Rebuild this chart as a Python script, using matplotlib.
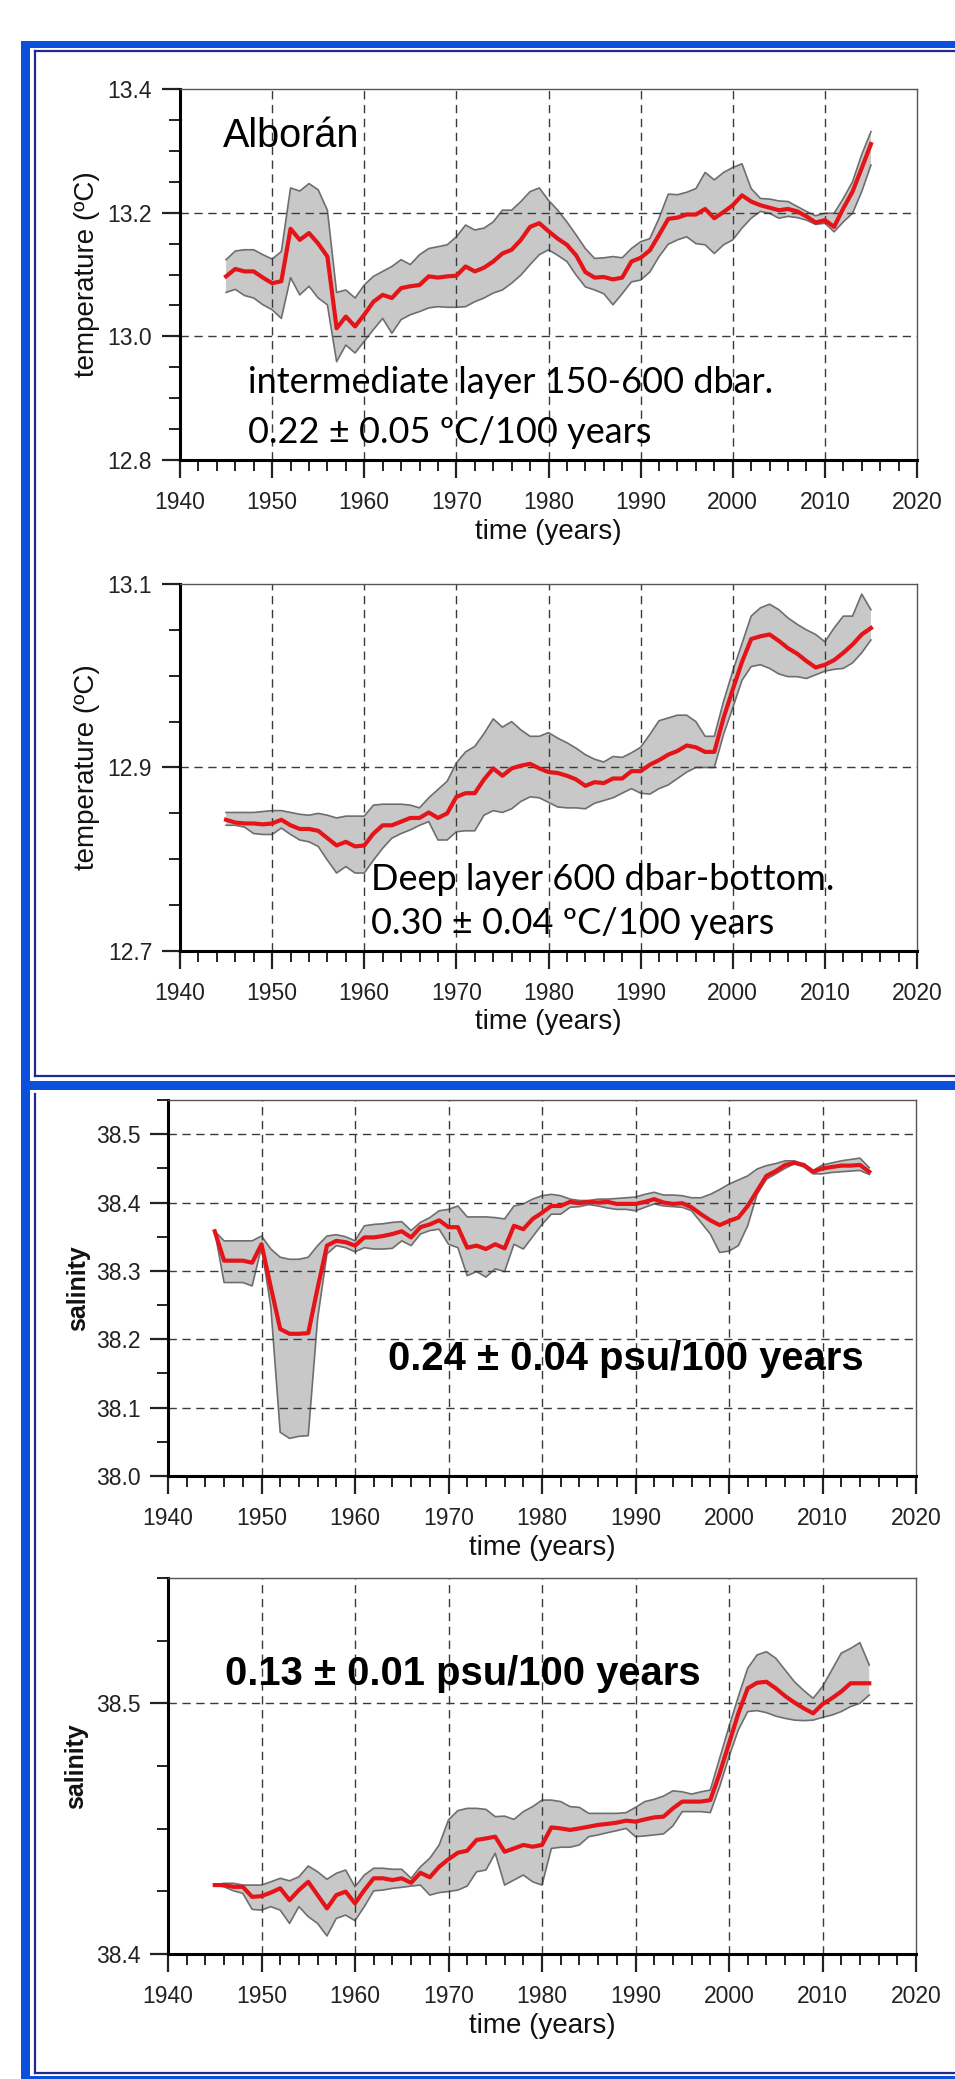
import numpy as np
import matplotlib
matplotlib.use("Agg")
import matplotlib.pyplot as plt
from matplotlib.patches import Rectangle
from matplotlib.lines import Line2D
from matplotlib.ticker import MultipleLocator, FormatStrFormatter

plt.rcParams['font.family'] = ['Liberation Sans', 'DejaVu Sans']

W, H = 955, 2079
years = np.arange(1945, 2016)
grid_years = [1950, 1960, 1970, 1980, 1990, 2000, 2010]

# --- intermediate layer temperature (150-600 dbar)
t_int = [13.097, 13.109, 13.105, 13.105, 13.095, 13.086, 13.089, 13.174, 13.156, 13.167,
         13.150, 13.129, 13.013, 13.032, 13.016, 13.035, 13.056, 13.067, 13.062, 13.078,
         13.081, 13.083, 13.097, 13.095, 13.097, 13.098, 13.113, 13.105, 13.111, 13.121,
         13.134, 13.140, 13.156, 13.177, 13.183, 13.170, 13.158, 13.148, 13.131, 13.104,
         13.095, 13.096, 13.092, 13.095, 13.121, 13.127, 13.139, 13.164, 13.190, 13.192,
         13.197, 13.197, 13.206, 13.191, 13.201, 13.212, 13.228, 13.218, 13.212, 13.208,
         13.204, 13.206, 13.202, 13.194, 13.184, 13.188, 13.177, 13.207, 13.234, 13.272,
         13.311]
t_int_hi = [13.124, 13.138, 13.140, 13.140, 13.132, 13.125, 13.137, 13.240, 13.235, 13.247,
            13.237, 13.204, 13.071, 13.075, 13.062, 13.083, 13.097, 13.105, 13.113, 13.124,
            13.116, 13.132, 13.142, 13.145, 13.148, 13.161, 13.180, 13.172, 13.175, 13.185,
            13.204, 13.204, 13.218, 13.234, 13.240, 13.220, 13.204, 13.185, 13.164, 13.142,
            13.126, 13.127, 13.129, 13.127, 13.142, 13.153, 13.158, 13.191, 13.230, 13.229,
            13.233, 13.239, 13.265, 13.253, 13.265, 13.273, 13.279, 13.239, 13.223, 13.222,
            13.219, 13.218, 13.210, 13.202, 13.195, 13.199, 13.199, 13.223, 13.250, 13.294,
            13.331]
t_int_lo = [13.071, 13.076, 13.066, 13.062, 13.051, 13.043, 13.029, 13.095, 13.067, 13.081,
            13.062, 13.051, 12.959, 12.986, 12.973, 12.992, 13.011, 13.029, 13.005, 13.027,
            13.035, 13.040, 13.046, 13.048, 13.047, 13.047, 13.048, 13.056, 13.062, 13.070,
            13.075, 13.086, 13.099, 13.116, 13.132, 13.140, 13.131, 13.121, 13.099, 13.080,
            13.075, 13.069, 13.051, 13.069, 13.088, 13.091, 13.104, 13.129, 13.149, 13.156,
            13.161, 13.150, 13.148, 13.134, 13.148, 13.156, 13.175, 13.191, 13.202, 13.199,
            13.191, 13.194, 13.192, 13.188, 13.181, 13.183, 13.169, 13.185, 13.199, 13.234,
            13.277]

# --- deep layer temperature (600 dbar-bottom)
t_deep = [12.843, 12.840, 12.839, 12.839, 12.838, 12.839, 12.843, 12.837, 12.833, 12.833,
          12.831, 12.823, 12.815, 12.819, 12.814, 12.815, 12.828, 12.837, 12.837, 12.841,
          12.845, 12.845, 12.851, 12.845, 12.850, 12.868, 12.872, 12.872, 12.887, 12.899,
          12.891, 12.899, 12.902, 12.904, 12.899, 12.895, 12.894, 12.891, 12.887, 12.880,
          12.884, 12.883, 12.888, 12.888, 12.896, 12.896, 12.903, 12.908, 12.914, 12.918,
          12.924, 12.922, 12.917, 12.917, 12.954, 12.985, 13.015, 13.040, 13.043, 13.045,
          13.038, 13.030, 13.024, 13.016, 13.009, 13.012, 13.017, 13.025, 13.034, 13.045,
          13.052]
t_deep_hi = [12.851, 12.851, 12.851, 12.851, 12.852, 12.853, 12.853, 12.851, 12.849, 12.848,
             12.850, 12.848, 12.845, 12.847, 12.847, 12.847, 12.859, 12.860, 12.860, 12.860,
             12.859, 12.856, 12.867, 12.876, 12.885, 12.905, 12.917, 12.923, 12.937, 12.953,
             12.944, 12.950, 12.941, 12.934, 12.934, 12.938, 12.932, 12.927, 12.921, 12.914,
             12.909, 12.906, 12.912, 12.911, 12.916, 12.922, 12.936, 12.951, 12.954, 12.957,
             12.957, 12.950, 12.934, 12.934, 12.972, 13.005, 13.035, 13.065, 13.074, 13.078,
             13.072, 13.063, 13.056, 13.050, 13.045, 13.037, 13.052, 13.065, 13.065, 13.089,
             13.072]
t_deep_lo = [12.837, 12.837, 12.835, 12.828, 12.827, 12.827, 12.834, 12.827, 12.821, 12.819,
             12.814, 12.799, 12.785, 12.792, 12.785, 12.785, 12.799, 12.812, 12.823, 12.828,
             12.832, 12.837, 12.841, 12.821, 12.821, 12.830, 12.831, 12.831, 12.848, 12.853,
             12.851, 12.855, 12.863, 12.868, 12.867, 12.862, 12.857, 12.856, 12.856, 12.855,
             12.861, 12.864, 12.867, 12.872, 12.877, 12.872, 12.871, 12.877, 12.881, 12.888,
             12.895, 12.900, 12.900, 12.900, 12.936, 12.965, 12.995, 13.010, 13.012, 13.008,
             13.002, 12.999, 12.999, 12.997, 13.001, 13.005, 13.007, 13.008, 13.014, 13.025,
             13.039]

# --- intermediate layer salinity
s_int = [38.358, 38.315, 38.315, 38.315, 38.312, 38.339, 38.276, 38.215, 38.208, 38.208,
         38.209, 38.275, 38.337, 38.344, 38.342, 38.337, 38.349, 38.349, 38.351, 38.354,
         38.358, 38.349, 38.364, 38.368, 38.374, 38.364, 38.364, 38.334, 38.337, 38.332,
         38.339, 38.333, 38.366, 38.361, 38.376, 38.385, 38.395, 38.395, 38.401, 38.399,
         38.401, 38.400, 38.401, 38.398, 38.398, 38.398, 38.401, 38.405, 38.400, 38.398,
         38.399, 38.393, 38.383, 38.374, 38.367, 38.373, 38.378, 38.395, 38.417, 38.439,
         38.446, 38.455, 38.458, 38.455, 38.445, 38.450, 38.452, 38.454, 38.454, 38.455,
         38.445]
s_int_hi = [38.358, 38.344, 38.344, 38.344, 38.344, 38.351, 38.332, 38.320, 38.317, 38.317,
            38.320, 38.337, 38.351, 38.353, 38.350, 38.344, 38.366, 38.368, 38.369, 38.371,
            38.372, 38.359, 38.371, 38.378, 38.388, 38.390, 38.395, 38.379, 38.379, 38.379,
            38.378, 38.376, 38.395, 38.398, 38.405, 38.410, 38.412, 38.410, 38.405, 38.403,
            38.403, 38.405, 38.405, 38.406, 38.407, 38.408, 38.412, 38.415, 38.411, 38.411,
            38.410, 38.407, 38.407, 38.412, 38.419, 38.427, 38.433, 38.439, 38.449, 38.454,
            38.457, 38.461, 38.461, 38.456, 38.447, 38.455, 38.458, 38.461, 38.463, 38.465,
            38.451]
s_int_lo = [38.358, 38.283, 38.283, 38.283, 38.278, 38.335, 38.247, 38.064, 38.055, 38.058,
            38.059, 38.230, 38.325, 38.337, 38.334, 38.328, 38.334, 38.332, 38.332, 38.333,
            38.344, 38.337, 38.354, 38.359, 38.361, 38.339, 38.334, 38.293, 38.299, 38.291,
            38.303, 38.299, 38.339, 38.332, 38.350, 38.368, 38.383, 38.383, 38.393, 38.394,
            38.397, 38.395, 38.392, 38.390, 38.390, 38.388, 38.393, 38.398, 38.395, 38.394,
            38.393, 38.388, 38.371, 38.354, 38.327, 38.329, 38.337, 38.366, 38.412, 38.434,
            38.442, 38.450, 38.457, 38.452, 38.442, 38.442, 38.444, 38.445, 38.446, 38.447,
            38.441]

# --- deep layer salinity
s_deep = [38.4275, 38.4275, 38.4268, 38.4268, 38.4228, 38.4231, 38.4245, 38.4262, 38.4215, 38.4255,
          38.4288, 38.4235, 38.4182, 38.4235, 38.4249, 38.4202, 38.4255, 38.4302, 38.4302, 38.4295,
          38.4302, 38.4284, 38.4324, 38.4306, 38.4348, 38.4378, 38.4404, 38.4412, 38.4455, 38.4461,
          38.4468, 38.4408, 38.4421, 38.4435, 38.4428, 38.4435, 38.4505, 38.4501, 38.4495, 38.4501,
          38.4508, 38.4515, 38.4519, 38.4524, 38.4532, 38.4528, 38.4537, 38.4545, 38.4548, 38.4581,
          38.4608, 38.4608, 38.4608, 38.4614, 38.4721, 38.4840, 38.4960, 38.5060, 38.5082, 38.5086,
          38.5060, 38.5029, 38.5003, 38.4980, 38.4960, 38.4997, 38.5020, 38.5047, 38.5080, 38.5080,
          38.5080]
s_deep_hi = [38.4275, 38.4282, 38.4282, 38.4275, 38.4275, 38.4275, 38.4288, 38.4302, 38.4292, 38.4308,
             38.4351, 38.4328, 38.4298, 38.4322, 38.4335, 38.4268, 38.4315, 38.4342, 38.4342, 38.4338,
             38.4338, 38.4302, 38.4348, 38.4382, 38.4435, 38.4535, 38.4572, 38.4581, 38.4581, 38.4577,
             38.4548, 38.4550, 38.4537, 38.4568, 38.4588, 38.4614, 38.4614, 38.4608, 38.4588, 38.4585,
             38.4561, 38.4561, 38.4561, 38.4561, 38.4564, 38.4585, 38.4608, 38.4617, 38.4630, 38.4651,
             38.4647, 38.4638, 38.4647, 38.4654, 38.4781, 38.4907, 38.5027, 38.5140, 38.5193, 38.5206,
             38.5180, 38.5133, 38.5086, 38.5051, 38.5020, 38.5067, 38.5133, 38.5200, 38.5219, 38.5242,
             38.5153]
s_deep_lo = [38.4275, 38.4268, 38.4252, 38.4242, 38.4178, 38.4175, 38.4189, 38.4175, 38.4122, 38.4189,
             38.4149, 38.4122, 38.4072, 38.4142, 38.4155, 38.4133, 38.4189, 38.4252, 38.4255, 38.4262,
             38.4266, 38.4271, 38.4275, 38.4235, 38.4245, 38.4249, 38.4255, 38.4271, 38.4328, 38.4335,
             38.4402, 38.4275, 38.4295, 38.4315, 38.4288, 38.4275, 38.4421, 38.4426, 38.4426, 38.4435,
             38.4468, 38.4475, 38.4484, 38.4492, 38.4501, 38.4468, 38.4471, 38.4475, 38.4479, 38.4511,
             38.4568, 38.4568, 38.4568, 38.4564, 38.4668, 38.4787, 38.4894, 38.4967, 38.4971, 38.4963,
             38.4949, 38.4940, 38.4933, 38.4931, 38.4933, 38.4944, 38.4953, 38.4967, 38.4987, 38.5000,
             38.5033]

BLUE = '#0B4FDD'
NAVY = '#1D2B8F'
RED = '#E41418'
BAND = '#C8C8C8'
EDGE = '#6E6E6E'
GRID = '#3A3A3A'

fig = plt.figure(figsize=(W / 100, H / 100), dpi=100)
fig.patch.set_facecolor('white')


def fx(px):
    return px / W


def fy(py):
    return 1 - py / H


# blue double frame around the two groups of panels
for x0, y0, x1, y1 in [(21, 41, 960, 48), (21, 41, 30, 2079),
                       (21, 1081, 960, 1090), (21, 2076, 960, 2079)]:
    fig.add_artist(Rectangle((fx(x0), fy(y1)), (x1 - x0) / W, (y1 - y0) / H,
                             transform=fig.transFigure, color=BLUE, lw=0))
for (xa, ya), (xb, yb) in [((35, 51), (960, 51)), ((35, 51), (35, 1076)),
                           ((35, 1076), (960, 1076)), ((35, 1094), (35, 2073)),
                           ((35, 2073), (960, 2073))]:
    fig.add_artist(Line2D([fx(xa), fx(xb)], [fy(ya), fy(yb)],
                          transform=fig.transFigure, color=NAVY, lw=1.6))


def panel(px_box, mean, hi, lo, ylim, major, minor, hgrid, ylabel, ylab_x,
          bold_ylab=False, offset=0.0):
    x0, y0, x1, y1 = px_box
    ax = fig.add_axes([fx(x0), fy(y1), (x1 - x0) / W, (y1 - y0) / H])
    ax.fill_between(years, lo, hi, facecolor=BAND, edgecolor='none', zorder=2)
    ax.plot(years, hi, color=EDGE, lw=1.2, zorder=2.2)
    ax.plot(years, lo, color=EDGE, lw=1.2, zorder=2.2)
    for gx in grid_years:
        ax.axvline(gx, color=GRID, lw=1.0, ls=(0, (6, 4)), zorder=2.5)
    for gy in hgrid:
        ax.axhline(gy, color=GRID, lw=1.0, ls=(0, (6, 4)), zorder=2.5)
    ax.plot(years, mean, color=RED, lw=3.0, zorder=4, solid_joinstyle='round')

    ax.set_xlim(1940, 2020)
    ax.set_ylim(*ylim)
    ax.xaxis.set_major_locator(MultipleLocator(10))
    ax.xaxis.set_minor_locator(MultipleLocator(2))
    ax.yaxis.set_major_locator(MultipleLocator(major, offset=offset))
    ax.yaxis.set_minor_locator(MultipleLocator(minor))
    ax.yaxis.set_major_formatter(FormatStrFormatter('%.1f'))
    ax.tick_params(which='major', direction='out', length=13, width=1.6,
                   labelsize=16.5, pad=7, colors='#222222')
    ax.tick_params(which='minor', direction='out', length=8, width=1.4, colors='#222222')
    ax.tick_params(axis='x', which='major', pad=9)
    for s in ['left', 'bottom']:
        ax.spines[s].set_linewidth(2.2)
        ax.spines[s].set_color('black')
    for s in ['top', 'right']:
        ax.spines[s].set_linewidth(1.0)
        ax.spines[s].set_color('#555555')

    ax.set_xlabel('time (years)', fontsize=20, color='#111111')
    ax.xaxis.set_label_coords(0.5, -0.158)
    if bold_ylab:
        ax.set_ylabel(ylabel, fontsize=18, fontweight='bold', color='#111111')
    else:
        ax.set_ylabel(ylabel, fontsize=20, color='#111111')
    ax.yaxis.set_label_coords(ylab_x, 0.5)
    return ax


ax1 = panel((180, 89, 917, 460), t_int, t_int_hi, t_int_lo, (12.8, 13.4), 0.2, 0.05,
            [13.0, 13.2], 'temperature (ºC)', -0.108)
ax1.text(0.058, 0.845, 'Alborán', transform=ax1.transAxes, fontsize=28.5,
         va='baseline', ha='left', zorder=6)
ax1.text(0.092, 0.18, 'intermediate layer 150-600 dbar.', transform=ax1.transAxes,
         fontsize=26, family=['Lato', 'DejaVu Sans'], va='baseline', zorder=6)
ax1.text(0.092, 0.045, '0.22 ± 0.05 ºC/100 years', transform=ax1.transAxes,
         fontsize=26, family=['Lato', 'DejaVu Sans'], va='baseline', zorder=6)

ax2 = panel((180, 584, 917, 951), t_deep, t_deep_hi, t_deep_lo, (12.7, 13.1), 0.2, 0.05,
            [12.9], 'temperature (ºC)', -0.108, offset=0.1)
ax2.text(0.259, 0.166, 'Deep layer 600 dbar-bottom.', transform=ax2.transAxes,
         fontsize=26, family=['Lato', 'DejaVu Sans'], va='baseline', zorder=6)
ax2.text(0.259, 0.047, '0.30 ± 0.04 ºC/100 years', transform=ax2.transAxes,
         fontsize=26, family=['Lato', 'DejaVu Sans'], va='baseline', zorder=6)

ax3 = panel((168, 1100, 916, 1476), s_int, s_int_hi, s_int_lo, (38.0, 38.55), 0.1, 0.05,
            [38.1, 38.2, 38.3, 38.4, 38.5], 'salinity', -0.104, bold_ylab=True)
ax3.text(0.294, 0.282, '0.24 ± 0.04 psu/100 years', transform=ax3.transAxes,
         fontsize=28.8, fontweight='bold', va='baseline', zorder=6)

ax4 = panel((168, 1578, 916, 1954), s_deep, s_deep_hi, s_deep_lo, (38.4, 38.55), 0.1, 0.025,
            [38.5], 'salinity', -0.107, bold_ylab=True)
ax4.text(0.076, 0.716, '0.13 ± 0.01 psu/100 years', transform=ax4.transAxes,
         fontsize=28.8, fontweight='bold', va='baseline', zorder=6)

fig.savefig('out.png', dpi=100, facecolor='white')
